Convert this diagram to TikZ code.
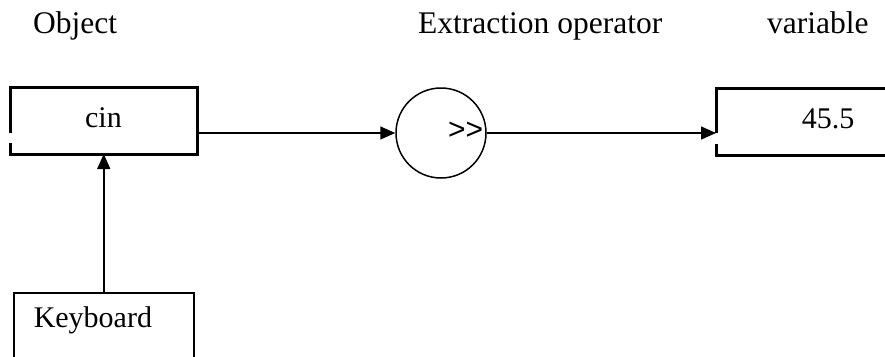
\documentclass[tikz,border=0pt]{standalone}
\usepackage{fontspec}
\setmainfont{Liberation Serif}
\newfontfamily\symfont{Liberation Sans}
\usetikzlibrary{arrows.meta,calc}

\tikzset{
  txt/.style={font=\fontsize{30}{36}\selectfont, inner sep=0pt},
  heading/.style={font=\fontsize{31.5}{38}\selectfont, inner sep=0pt, anchor=base west},
  holder/.style={txt, outer sep=0pt, text height=21pt, text depth=7.5pt},
  boxline/.style={line width=3pt, line join=miter},
  arr/.style={line width=1.5pt, -{Triangle[length=15pt, width=13pt]}}
}

\begin{document}
\begin{tikzpicture}[x=1pt, y=-1pt]
    \useasboundingbox (0,0) rectangle (885,356);

    % Headings over the parts
    \node[heading] (hobj) at (33,33.5) {Object};
    \node[heading] (hop) at (418,33.5) {Extraction operator};
    \node[heading] (hvar) at (767,33.5) {variable};

    % Object, operator and variable
    \node[holder, minimum width=187pt, minimum height=67pt] (cin) at (103.5,120.5) {cin};
    \node[circle, draw, line width=1.5pt, minimum size=90pt, inner sep=0pt] (op) at (441,133) {};
    \node[anchor=base west, inner sep=0pt, font=\symfont\fontsize{30}{36}\selectfont] (opsym) at (448,139.5) {>>};
    \node[holder, minimum width=224pt, minimum height=67pt] (var) at (828,121.5) {45.5};

    % Box outlines, open on the left side
    \draw[boxline] ($(cin.west)+(0,12.5)$) -- (cin.north west) -- (cin.north east)
        -- (cin.south east) -- (cin.south west) -- ($(cin.west)+(0,22.5)$);
    \draw[boxline] ($(var.west)+(0,11.5)$) -- (var.north west) -- (var.north east)
        -- (var.south east) -- (var.south west) -- ($(var.west)+(0,22.5)$);

    % Keyboard
    \node[txt, draw, line width=1.5pt, anchor=north west, inner xsep=20pt, inner ysep=14pt,
          text width=140pt, align=left, text height=21pt, text depth=70pt] (kb) at (13,292) {Keyboard};

    % Connectors
    \draw[arr] (kb.north) -- (kb.north |- cin.south);
    \draw[arr] (cin.east |- op.west) -- (op.west);
    \draw[arr] (op.east) -- (var.west |- op.east);
\end{tikzpicture}
\end{document}
